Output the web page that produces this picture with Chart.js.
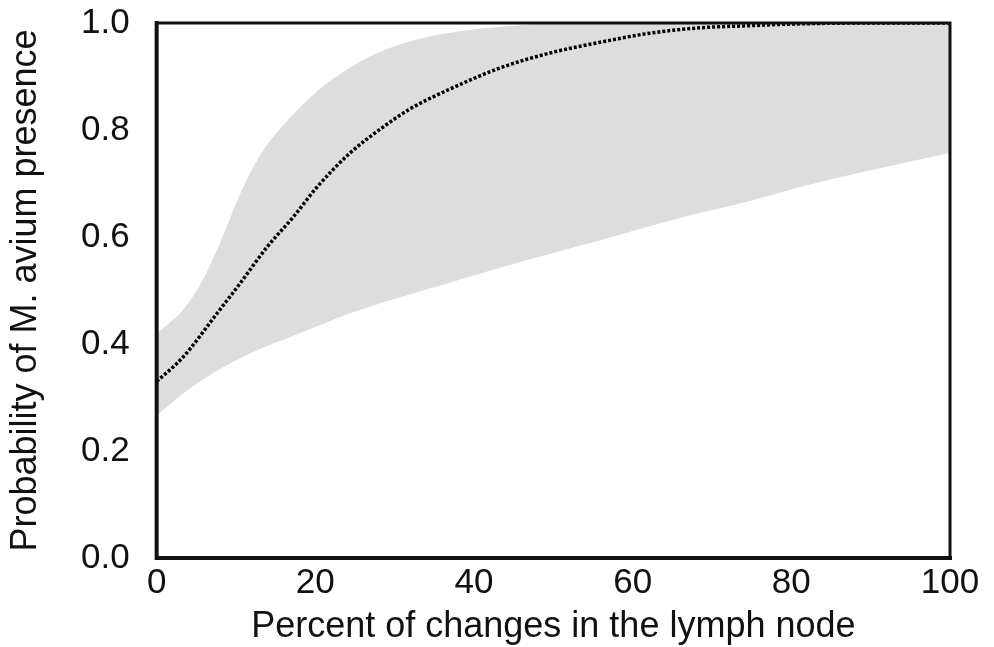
<!DOCTYPE html>
<html>
<head>
<meta charset="utf-8">
<script src="https://cdn.jsdelivr.net/npm/chart.js@4.4.1/dist/chart.umd.min.js"></script>
<style>
    html, body { margin: 0; padding: 0; background: #fff; }
    #wrap { width: 994px; height: 647px; }
</style>
</head>
<body>
<div id="wrap"><canvas id="probChart"></canvas></div>
<script>
// percent of changes in the lymph node (x)
const xUpper = [0, 1.5, 3.3, 5.8, 8.3, 10.5, 13, 15.9, 20.2, 24.3, 28.5, 34.8, 40, 45, 50, 60, 70, 80, 90, 100];
const upperBound = [0.42, 0.438, 0.463, 0.519, 0.60, 0.68, 0.752, 0.808, 0.872, 0.916, 0.948, 0.976, 0.988, 0.995, 0.999, 1.0, 1.0, 1.0, 1.0, 1.0];

const xLower = [0, 3.3, 7.6, 11.7, 18, 24.3, 30.6, 36.6, 45, 55, 65, 75, 81, 90, 100];
const lowerBound = [0.266, 0.307, 0.35, 0.382, 0.42, 0.457, 0.487, 0.513, 0.55, 0.59, 0.632, 0.668, 0.693, 0.725, 0.757];

const xCurve = [0, 3.3, 7.6, 10.5, 13.9, 17.2, 20.2, 24.3, 28.5, 32, 36.6, 43.3, 49.6, 55.9, 62.2, 68.5, 74.8, 80, 90, 100];
const probCurve = [0.33, 0.375, 0.457, 0.513, 0.581, 0.637, 0.693, 0.756, 0.805, 0.84, 0.874, 0.916, 0.944, 0.964, 0.981, 0.991, 0.995, 0.998, 1.0, 1.0];

const xTicks = [0, 20, 40, 60, 80, 100];
const yTicks = [0.0, 0.2, 0.4, 0.6, 0.8, 1.0];

const toPoints = (xs, ys) => xs.map((x, i) => ({ x: x, y: ys[i] }));

// frame drawn on top so the grey band doesn't cover the axis lines
const framePlugin = {
    id: 'frame',
    afterDatasetsDraw(chart) {
        const { ctx, chartArea: a } = chart;
        ctx.save();
        ctx.strokeStyle = '#111';
        ctx.lineCap = 'square';
        ctx.lineWidth = 3;
        ctx.beginPath();
        ctx.moveTo(a.left, a.top);
        ctx.lineTo(a.right, a.top);
        ctx.lineTo(a.right, a.bottom);
        ctx.stroke();
        ctx.lineWidth = 4;
        ctx.beginPath();
        ctx.moveTo(a.left, a.top);
        ctx.lineTo(a.left, a.bottom);
        ctx.lineTo(a.right, a.bottom);
        ctx.stroke();
        ctx.restore();
    }
};

Chart.defaults.font.family = '"Liberation Sans", Arial, sans-serif';
Chart.defaults.color = '#111';

new Chart(document.getElementById('probChart'), {
    type: 'line',
    data: {
        datasets: [
            {
                label: 'probability',
                data: toPoints(xCurve, probCurve),
                borderColor: '#000',
                borderWidth: 3.5,
                borderDash: [3, 2],
                pointRadius: 0,
                fill: false,
                cubicInterpolationMode: 'monotone'
            },
            {
                label: 'upper',
                data: toPoints(xUpper, upperBound),
                borderWidth: 0,
                pointRadius: 0,
                backgroundColor: '#dddddd',
                fill: '+1',
                cubicInterpolationMode: 'monotone'
            },
            {
                label: 'lower',
                data: toPoints(xLower, lowerBound),
                borderWidth: 0,
                pointRadius: 0,
                fill: false,
                cubicInterpolationMode: 'monotone'
            }
        ]
    },
    options: {
        responsive: true,
        maintainAspectRatio: false,
        animation: false,
        layout: {
            padding: { left: 8, right: 44, top: 23, bottom: 2 }
        },
        plugins: {
            legend: { display: false },
            tooltip: { enabled: false }
        },
        scales: {
            x: {
                type: 'linear',
                min: 0,
                max: 100,
                grid: { display: false, drawTicks: false },
                border: { display: false },
                afterBuildTicks: axis => { axis.ticks = xTicks.map(v => ({ value: v })); },
                ticks: {
                    padding: 8,
                    font: { size: 35, lineHeight: 1.0 },
                    maxRotation: 0
                },
                title: {
                    display: true,
                    text: 'Percent of changes in the lymph node',
                    font: { size: 36, lineHeight: 1.0 },
                    padding: { top: 0, bottom: 0 }
                }
            },
            y: {
                min: 0,
                max: 1,
                grid: { display: false, drawTicks: false },
                border: { display: false },
                afterBuildTicks: axis => { axis.ticks = yTicks.map(v => ({ value: v })); },
                // tick padding would otherwise push the plot top down
                afterFit: axis => { axis.paddingTop = 0; axis.paddingBottom = 0; },
                ticks: {
                    padding: 27,
                    font: { size: 35 },
                    callback: v => v.toFixed(1)
                },
                title: {
                    display: true,
                    text: 'Probability of M. avium presence',
                    font: { size: 36, lineHeight: 1.0 },
                    padding: { top: 0, bottom: 10 }
                }
            }
        }
    },
    plugins: [framePlugin]
});
</script>
</body>
</html>
